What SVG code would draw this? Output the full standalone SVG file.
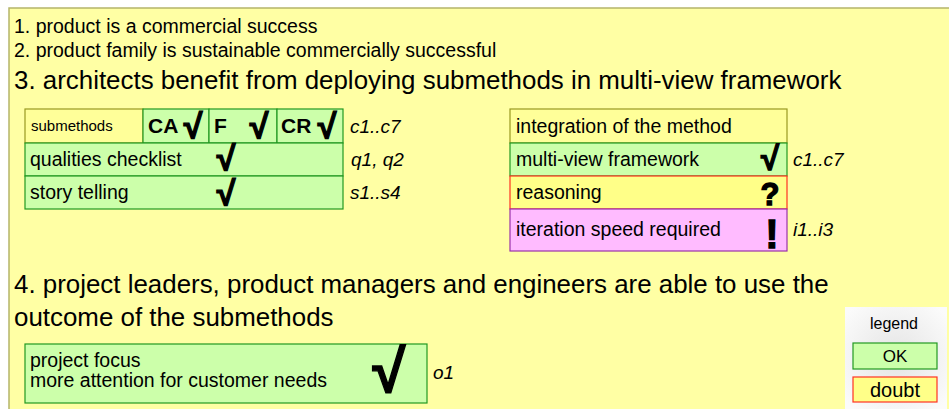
<svg xmlns="http://www.w3.org/2000/svg" width="949" height="409" viewBox="0 0 949 409">
<defs>
<style>
text{font-family:"Liberation Sans",Arial,sans-serif;fill:#000}
.t19{font-size:19.5px}
.big{font-size:25.9px}
.it{font-size:19px;font-style:italic}
.bold{font-weight:bold}
.chk{font-family:"Liberation Sans",Arial,sans-serif;font-weight:bold;text-anchor:middle;stroke:#000;stroke-width:1.3}
.ok{fill:#ccffaa;stroke:#229922;stroke-width:1.2}
.yel{fill:#ffff99;stroke:#999922;stroke-width:1.2}
.dbt{fill:#ffff88;stroke:#ff3322;stroke-width:1.2}
.pink{fill:#ffbbff;stroke:#9933aa;stroke-width:1.2}
</style>
<radialGradient id="lg" cx="50%" cy="50%" r="65%">
<stop offset="0" stop-color="#e4e4e4"/>
<stop offset="1" stop-color="#fbfbfb"/>
</radialGradient>
</defs>
<rect width="949" height="409" fill="#ffffff"/>
<rect id="frame" x="9" y="8" width="950" height="420" fill="#ffffa4" stroke="#b5b56a" stroke-width="1.5"/>
<g id="headings">
<text class="t19" x="14" y="33">1. product is a commercial success</text>
<text class="t19" x="14" y="57">2. product family is sustainable commercially successful</text>
<text class="big" x="14" y="89">3. architects benefit from deploying submethods in multi-view framework</text>
<text class="big" x="14" y="293">4. project leaders, product managers and engineers are able to use the</text>
<text class="big" x="14" y="326">outcome of the submethods</text>
</g>
<g id="submethods">
<rect class="yel" x="25" y="109" width="118" height="34"/>
<text x="31" y="131" font-size="15">submethods</text>
</g>
<g id="ca">
<rect class="ok" x="143" y="109" width="66" height="34"/>
<text class="bold" x="148" y="133" font-size="21">CA</text>
<text class="chk" x="193" y="138" font-size="34">√</text>
</g>
<g id="f">
<rect class="ok" x="209" y="109" width="68" height="34"/>
<text class="bold" x="214" y="133" font-size="21">F</text>
<text class="chk" x="259" y="138" font-size="34">√</text>
</g>
<g id="cr">
<rect class="ok" x="277" y="109" width="66" height="34"/>
<text class="bold" x="281" y="133" font-size="21">CR</text>
<text class="chk" x="327" y="138" font-size="34">√</text>
</g>
<text class="it" x="350" y="133">c1..c7</text>
<g id="qualities">
<rect class="ok" x="25" y="143" width="318" height="33"/>
<text class="t19" x="30" y="166">qualities checklist</text>
<text class="chk" x="226" y="170" font-size="34">√</text>
<text class="it" x="351" y="166">q1, q2</text>
</g>
<g id="story">
<rect class="ok" x="25" y="176" width="318" height="33"/>
<text class="t19" x="30" y="199">story telling</text>
<text class="chk" x="226" y="205" font-size="34">√</text>
<text class="it" x="350" y="199">s1..s4</text>
</g>
<g id="integration">
<rect class="yel" x="510" y="109" width="277" height="34"/>
<text class="t19" x="516" y="133">integration of the method</text>
</g>
<g id="multiview">
<rect class="ok" x="510" y="143" width="277" height="33"/>
<text class="t19" x="516" y="166">multi-view framework</text>
<text class="chk" x="770" y="170" font-size="33">√</text>
<text class="it" x="793" y="166">c1..c7</text>
</g>
<g id="reasoning">
<rect class="dbt" x="510" y="176" width="277" height="33"/>
<text class="t19" x="516" y="199">reasoning</text>
<text class="chk" x="770" y="205" font-size="31">?</text>
</g>
<g id="iteration">
<rect class="pink" x="510" y="209" width="277" height="42"/>
<text class="t19" x="516" y="236">iteration speed required</text>
<text class="chk" x="772" y="248" font-size="40">!</text>
<text class="it" x="793" y="236">i1..i3</text>
</g>
<g id="outcome">
<rect class="ok" x="25" y="344" width="402" height="59"/>
<text class="t19" x="30" y="367">project focus</text>
<text class="t19" x="30" y="387">more attention for customer needs</text>
<text class="chk" x="389" y="392" font-size="60">√</text>
<text class="it" x="433" y="379">o1</text>
</g>
<g id="legend">
<rect x="845" y="307" width="102" height="102" fill="url(#lg)"/>
<text x="894" y="329" font-size="16" text-anchor="middle">legend</text>
<rect class="ok" x="853" y="343" width="84" height="26"/>
<text x="895" y="362" font-size="17" text-anchor="middle">OK</text>
<rect class="dbt" x="853" y="377" width="84" height="25"/>
<text x="895" y="397" font-size="20" text-anchor="middle">doubt</text>
</g>
</svg>
